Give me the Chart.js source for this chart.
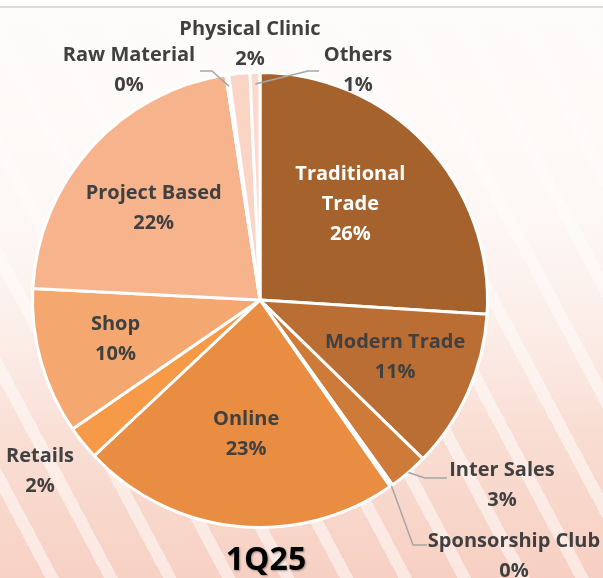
<!DOCTYPE html>
<html>
<head>
<meta charset="utf-8">
<script src="https://cdn.jsdelivr.net/npm/chart.js@4.4.1/dist/chart.umd.min.js"></script>
<style>
    html, body { margin: 0; padding: 0; }
    body {
        width: 603px;
        height: 578px;
        overflow: hidden;
        background:
            linear-gradient(#ffffff 0, #ffffff 6px, #dcdcdc 6px, #dcdcdc 8px, transparent 8px),
            linear-gradient(rgba(254,252,251,0.85) 0%, rgba(254,251,250,0.55) 40%, rgba(254,251,250,0) 75%),
            repeating-linear-gradient(62deg, rgba(255,255,255,0) 0 40px, rgba(255,255,255,0.5) 40px 52px),
            linear-gradient(178deg, #fefcfb 0%, #fcf1ed 40%, #f9dcd1 78%, #f7cfc2 100%);
    }
    #wrap { position: relative; width: 603px; height: 578px; }
</style>
</head>
<body>
<div id="wrap"><canvas id="pieChart" width="603" height="578"></canvas></div>
<script>
// Sales mix 1Q25, clockwise from 12 o'clock
const categories = ['Traditional Trade', 'Modern Trade', 'Inter Sales', 'Sponsorship Club', 'Online', 'Retails', 'Shop', 'Project Based', 'Raw Material', 'Physical Clinic', 'Others'];
const shares = [26.0, 11.3, 2.8, 0.2, 22.7, 2.4, 10.4, 21.8, 0.2, 1.5, 0.7];
const sliceColors = ['#A5622C', '#BA6E33', '#CE7B3A', '#D98440', '#E98D43', '#F69A48', '#F5A770', '#F7B38C', '#F9C4A8', '#FAD4C5', '#FBD9CD'];
const periodLabel = '1Q25';

// where each data label goes: inside = fraction of radius along the slice middle
// (with a small nudge), outside = text centre plus an optional leader line
const labelLayout = [
    { inside: 0.575, dx: -5, dy: -6, wrap: true, color: '#ffffff' },
    { inside: 0.65, dy: -3 },
    { text: [502, 485], r: 1.0, elbow: [425, 478], end: [447, 478] },
    { text: [514, 556], r: 1.0, elbow: [413, 545], end: [427, 545] },
    { inside: 0.59, dy: 1 },
    { text: [40, 471] },
    { inside: 0.66, dy: -2 },
    { inside: 0.63, dy: 4 },
    { text: [129, 70], r: 0.95, elbow: [212, 71], end: [200, 71] },
    { text: [250, 44] },
    { text: [358, 70], r: 0.95, elbow: [308, 71], end: [319, 71] }
];

const FONT = '"Open Sans", sans-serif';

const sliceLabels = {
    id: 'sliceLabels',
    afterDatasetsDraw(chart) {
        const ctx = chart.ctx;
        const meta = chart.getDatasetMeta(0);
        ctx.save();
        ctx.textAlign = 'center';
        ctx.textBaseline = 'middle';
        ctx.font = 'bold 20px ' + FONT;

        meta.data.forEach((arc, i) => {
            const lay = labelLayout[i];
            const mid = (arc.startAngle + arc.endAngle) / 2;
            const pct = Math.round(shares[i]) + '%';
            let lines = lay.wrap ? categories[i].split(' ') : [categories[i]];
            lines = lines.concat(pct);

            let cx, cy;
            if (lay.inside) {
                cx = arc.x + Math.cos(mid) * arc.outerRadius * lay.inside + (lay.dx || 0);
                cy = arc.y + Math.sin(mid) * arc.outerRadius * lay.inside + (lay.dy || 0);
            } else {
                cx = lay.text[0];
                cy = lay.text[1];
                if (lay.elbow) {
                    const ex = arc.x + Math.cos(mid) * arc.outerRadius * lay.r;
                    const ey = arc.y + Math.sin(mid) * arc.outerRadius * lay.r;
                    ctx.strokeStyle = '#a6a6a6';
                    ctx.lineWidth = 1.5;
                    ctx.beginPath();
                    ctx.moveTo(ex, ey);
                    ctx.lineTo(lay.elbow[0], lay.elbow[1]);
                    ctx.lineTo(lay.end[0], lay.end[1]);
                    ctx.stroke();
                }
            }

            ctx.fillStyle = lay.color || '#404040';
            const lh = 30;
            const top = cy - (lines.length - 1) * lh / 2;
            lines.forEach((txt, k) => ctx.fillText(txt, cx, top + k * lh));
        });

        // period caption under the pie
        ctx.font = 'bold 32px ' + FONT;
        ctx.fillStyle = '#000000';
        ctx.shadowColor = 'rgba(0,0,0,0.35)';
        ctx.shadowOffsetX = 1;
        ctx.shadowOffsetY = 1;
        ctx.shadowBlur = 2;
        ctx.fillText(periodLabel, 266, 561);
        ctx.restore();
    }
};

new Chart(document.getElementById('pieChart').getContext('2d'), {
    type: 'pie',
    data: {
        labels: categories,
        datasets: [{
            data: shares,
            backgroundColor: sliceColors,
            borderColor: '#ffffff',
            borderWidth: 3,
            hoverOffset: 0
        }]
    },
    options: {
        responsive: false,
        animation: false,
        layout: { padding: { left: 31, right: 114, top: 71, bottom: 49 } },
        plugins: {
            legend: { display: false },
            tooltip: { enabled: false }
        }
    },
    plugins: [sliceLabels]
});
</script>
</body>
</html>
